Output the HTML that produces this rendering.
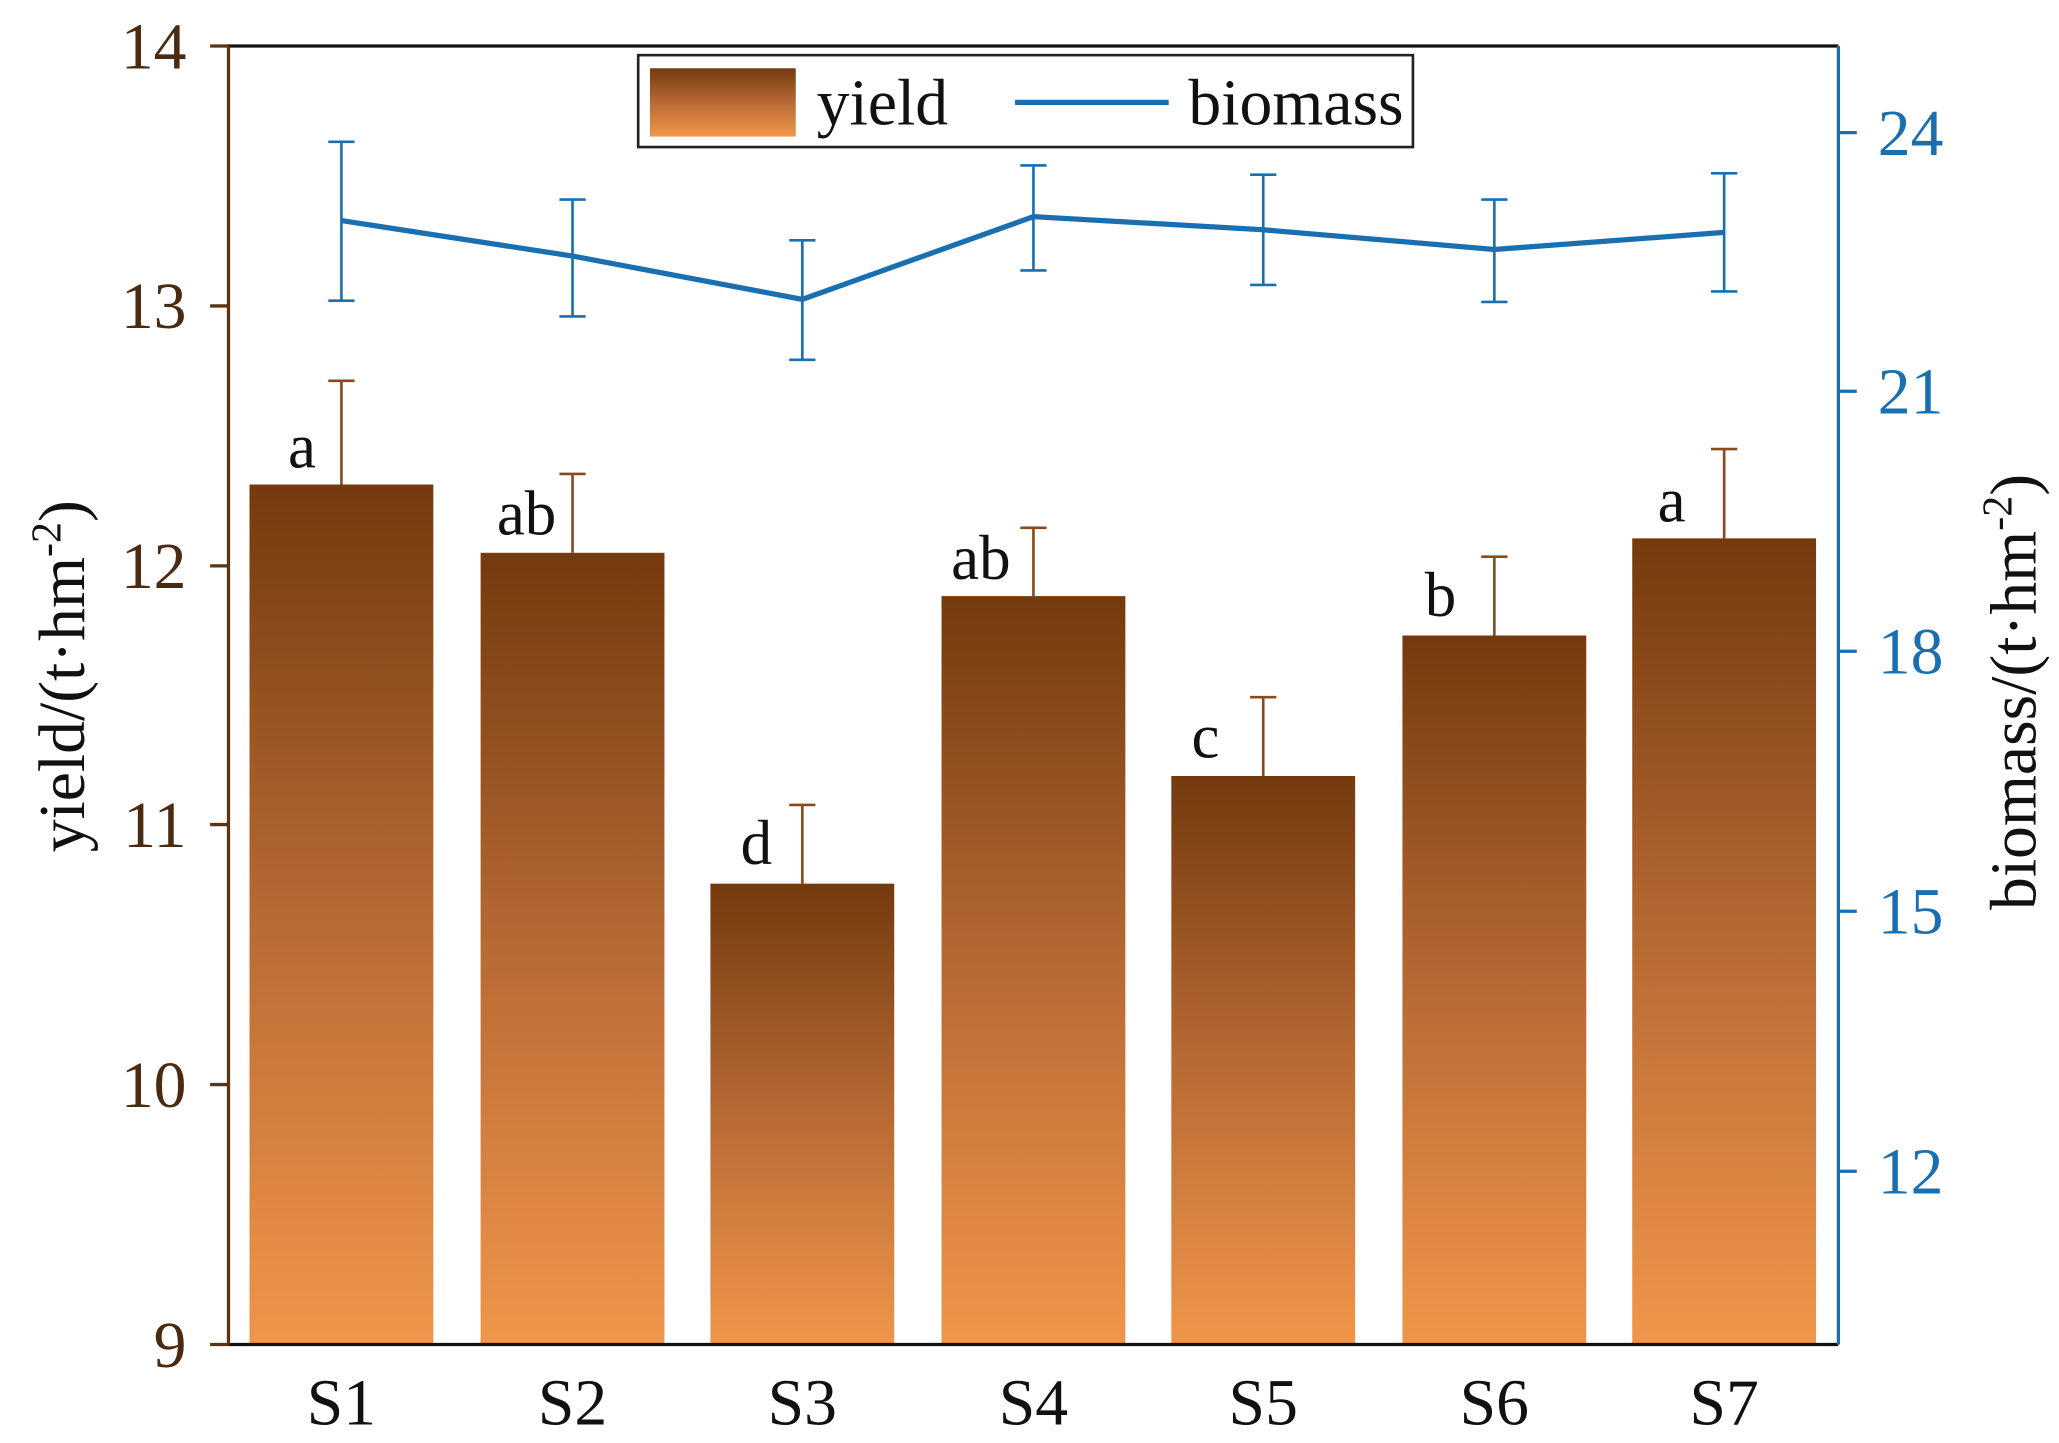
<!DOCTYPE html>
<html><head><meta charset="utf-8"><style>html,body{margin:0;padding:0;background:#fff}svg{display:block}</style></head>
<body>
<svg width="2059" height="1443" viewBox="0 0 1568 1099" preserveAspectRatio="none" xmlns="http://www.w3.org/2000/svg" font-family="Liberation Serif, serif">
<defs>
<linearGradient id="g" x1="0" y1="0" x2="0" y2="1">
<stop offset="0" stop-color="#743a0e"/><stop offset="0.5" stop-color="#b86a34"/><stop offset="1" stop-color="#f0964a"/>
</linearGradient>
</defs>
<g fill="url(#g)">
<rect x="190" y="369" width="140" height="655"/>
<rect x="366" y="421" width="140" height="603"/>
<rect x="541" y="673" width="140" height="351"/>
<rect x="717" y="454" width="140" height="570"/>
<rect x="892" y="591" width="140" height="433"/>
<rect x="1068" y="484" width="140" height="540"/>
<rect x="1243" y="410" width="140" height="614"/>
</g>
<g stroke="#8a4a1e" stroke-width="2" fill="none">
<path d="M260 369V290M250 290H270M436 421V361M426 361H446M611 673V613M601 613H621M787 454V402M777 402H797M962 591V531M952 531H972M1138 484V424M1128 424H1148M1313 410V342M1303 342H1323"/>
</g>
<g font-size="48" fill="#111" text-anchor="middle">
<text x="230" y="356">a</text><text x="401" y="407">ab</text><text x="576" y="658">d</text><text x="747" y="441">ab</text><text x="918" y="577">c</text><text x="1097" y="469">b</text><text x="1273" y="397">a</text>
</g>
<g stroke="#1a6fb0" stroke-width="2" fill="none">
<path d="M260 108V229M250 108H270M250 229H270M436 152V241M426 152H446M426 241H446M611 183V274M601 183H621M601 274H621M787 126V206M777 126H797M777 206H797M962 133V217M952 133H972M952 217H972M1138 152V230M1128 152H1148M1128 230H1148M1313 132V222M1303 132H1323M1303 222H1323"/>
</g>
<polyline points="260,168 436,195 611,228 787,165 962,175 1138,190 1313,177" fill="none" stroke="#1a6fb0" stroke-width="4"/>
<path d="M174 35H1400M174 1024H1400" stroke="#111" stroke-width="2.5"/>
<path d="M174 35V1024M160 35H174M160 233H174M160 431H174M160 628H174M160 826H174M160 1024H174" stroke="#5a3413" stroke-width="2.5" fill="none"/>
<path d="M1400 35V1024M1400 101H1414M1400 298H1414M1400 496H1414M1400 694H1414M1400 892H1414" stroke="#1a6fb0" stroke-width="2.5" fill="none"/>
<g font-size="50" fill="#4a2a10" text-anchor="end">
<text x="142" y="52">14</text><text x="142" y="250">13</text><text x="142" y="448">12</text><text x="142" y="645">11</text><text x="142" y="843">10</text><text x="142" y="1041">9</text>
</g>
<g font-size="50" fill="#1a6fb0">
<text x="1430" y="118">24</text><text x="1430" y="315">21</text><text x="1430" y="513">18</text><text x="1430" y="711">15</text><text x="1430" y="909">12</text>
</g>
<g font-size="50" fill="#111" text-anchor="middle">
<text x="260" y="1085">S1</text><text x="436" y="1085">S2</text><text x="611" y="1085">S3</text><text x="787" y="1085">S4</text><text x="962" y="1085">S5</text><text x="1138" y="1085">S6</text><text x="1313" y="1085">S7</text>
</g>
<text transform="translate(64,515) rotate(-90)" font-size="50" fill="#111" text-anchor="middle">yield/(t·hm<tspan dy="-18" font-size="32">-2</tspan><tspan dy="18">)</tspan></text>
<text transform="translate(1550,527) rotate(-90)" font-size="50" fill="#111" text-anchor="middle">biomass/(t·hm<tspan dy="-18" font-size="32">-2</tspan><tspan dy="18">)</tspan></text>
<rect x="486" y="42" width="590" height="70" fill="#fff" stroke="#222" stroke-width="2"/>
<rect x="495" y="52" width="111" height="52" fill="url(#g)"/>
<text x="622" y="95" font-size="50" fill="#111">yield</text>
<path d="M773 78H890" stroke="#1a6fb0" stroke-width="4"/>
<text x="905" y="95" font-size="50" fill="#111">biomass</text>
</svg>
</body></html>
